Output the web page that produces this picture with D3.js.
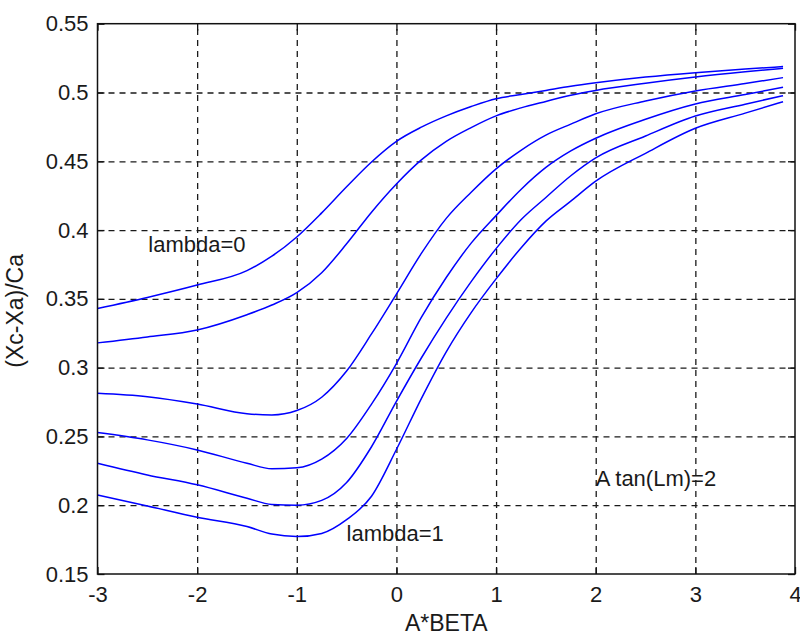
<!DOCTYPE html>
<html>
<head>
<meta charset="utf-8">
<script src="https://cdn.jsdelivr.net/npm/d3@7"></script>
<style>
	body { margin: 0; background: #fff; }
	svg { display: block; font-family: 'Liberation Sans', Arial, sans-serif; }
	.tick text { fill: #1a1a1a; }
	.label { fill: #1a1a1a; }
</style>
</head>
<body>
<div id="chart"></div>
<script>
// x positions (A*BETA) where the curves were read
const aBeta = [-3, -2.5, -2, -1.5, -1.25, -1, -0.75, -0.5, -0.25, 0, 0.25, 0.5, 0.75, 1, 1.25, 1.5, 1.75, 2, 2.5, 3, 3.5, 3.88];

// (Xc-Xa)/Ca, one array per lambda, top curve is lambda=0, bottom is lambda=1
const lambda00 = [0.343, 0.351, 0.360, 0.3705, 0.381, 0.395, 0.4125, 0.4315, 0.4495, 0.4645, 0.4748, 0.483, 0.4898, 0.4955, 0.4985, 0.5015, 0.5045, 0.507, 0.5112, 0.5144, 0.517, 0.5188];
const lambda02 = [0.318, 0.3223, 0.3274, 0.3385, 0.3455, 0.3545, 0.369, 0.390, 0.413, 0.4335, 0.451, 0.4645, 0.4745, 0.483, 0.4888, 0.4935, 0.498, 0.5015, 0.5067, 0.5112, 0.515, 0.5176];
const lambda04 = [0.2814, 0.2789, 0.2736, 0.2665, 0.2656, 0.2688, 0.2785, 0.2975, 0.3245, 0.3535, 0.383, 0.4085, 0.4275, 0.4445, 0.458, 0.469, 0.477, 0.4845, 0.4938, 0.5011, 0.5065, 0.5108];
const lambda06 = [0.2528, 0.2475, 0.2402, 0.2305, 0.2265, 0.2272, 0.2335, 0.2485, 0.2735, 0.303, 0.3365, 0.3655, 0.3905, 0.4105, 0.4295, 0.4455, 0.4575, 0.4667, 0.4805, 0.4916, 0.4985, 0.5038];
const lambda08 = [0.2305, 0.222, 0.2148, 0.2051, 0.2005, 0.2, 0.2035, 0.2165, 0.2425, 0.2755, 0.307, 0.336, 0.3625, 0.3865, 0.4075, 0.4237, 0.4395, 0.4525, 0.4684, 0.4829, 0.4915, 0.4977];
const lambda10 = [0.2075, 0.1995, 0.1913, 0.1845, 0.179, 0.1772, 0.1795, 0.1895, 0.2065, 0.2405, 0.2775, 0.3115, 0.34, 0.3645, 0.387, 0.4065, 0.421, 0.4355, 0.4558, 0.474, 0.485, 0.4933];

const curves = [lambda00, lambda02, lambda04, lambda06, lambda08, lambda10];

// ticks
const xTicks = [-3, -2, -1, 0, 1, 2, 3, 4];
const xTickLabels = ['-3', '-2', '-1', '0', '1', '2', '3', '4'];
const yTicks = [0.15, 0.2, 0.25, 0.3, 0.35, 0.4, 0.45, 0.5, 0.55];
const yTickLabels = ['0.15', '0.2', '0.25', '0.3', '0.35', '0.4', '0.45', '0.5', '0.55'];

// annotations [text, x, y] in data units
const notes = [
	['lambda=0', -2.49, 0.384],
	['lambda=1', -0.5, 0.174],
	['A tan(Lm)=2', 2.0, 0.214]
];

const width = 800;
const height = 637;
const margin = { top: 23.7, right: 5, bottom: 63, left: 97.5 };
const tickLen = 7;
const fontSize = 22;

const x = d3.scaleLinear()
	.domain([-3, 4])
	.range([margin.left, width - margin.right]);

const y = d3.scaleLinear()
	.domain([0.15, 0.55])
	.range([height - margin.bottom, margin.top]);

const svg = d3.select('#chart')
	.append('svg')
	.attr('width', width)
	.attr('height', height);

// dashed grid
const gridlines = (g, axis, size) => {
	g.call(axis.tickSize(size).tickFormat(''))
		.call(g => g.select('.domain').remove())
		.call(g => g.selectAll('.tick line')
			.attr('stroke', '#1a1a1a')
			.attr('stroke-width', 1.3)
			.attr('stroke-dasharray', '6,5'));
};

svg.append('g')
	.attr('transform', `translate(0,${height - margin.bottom})`)
	.call(g => gridlines(g, d3.axisBottom(x).tickValues(xTicks.slice(1, -1)), -(height - margin.bottom - margin.top)));

svg.append('g')
	.attr('transform', `translate(${margin.left},0)`)
	.call(g => gridlines(g, d3.axisLeft(y).tickValues(yTicks.slice(1, -1)), -(width - margin.left - margin.right)));

// the curves
const line = d3.line()
	.x((d, i) => x(aBeta[i]))
	.y(d => y(d))
	.curve(d3.curveMonotoneX);

svg.append('g')
	.selectAll('path')
	.data(curves)
	.join('path')
	.attr('fill', 'none')
	.attr('stroke', '#0000ff')
	.attr('stroke-width', 1.5)
	.attr('d', line);

// axes with inward ticks, matlab style box
const styleAxis = g => {
	g.select('.domain').remove();
	g.selectAll('.tick line').attr('stroke', '#111').attr('stroke-width', 1.3);
	g.selectAll('.tick text').attr('font-size', fontSize);
};

svg.append('g')
	.attr('transform', `translate(0,${height - margin.bottom})`)
	.call(d3.axisBottom(x)
		.tickValues(xTicks)
		.tickFormat((d, i) => xTickLabels[i])
		.tickSizeInner(-tickLen)
		.tickSizeOuter(0)
		.tickPadding(12))
	.call(styleAxis);

svg.append('g')
	.attr('transform', `translate(${margin.left},0)`)
	.call(d3.axisLeft(y)
		.tickValues(yTicks)
		.tickFormat((d, i) => yTickLabels[i])
		.tickSizeInner(-tickLen)
		.tickSizeOuter(0)
		.tickPadding(9))
	.call(styleAxis);

svg.append('g')
	.attr('transform', `translate(0,${margin.top})`)
	.call(d3.axisTop(x).tickValues(xTicks).tickFormat('').tickSizeInner(-tickLen).tickSizeOuter(0))
	.call(styleAxis);

svg.append('g')
	.attr('transform', `translate(${width - margin.right},0)`)
	.call(d3.axisRight(y).tickValues(yTicks).tickFormat('').tickSizeInner(-tickLen).tickSizeOuter(0))
	.call(styleAxis);

// box
svg.append('rect')
	.attr('x', margin.left)
	.attr('y', margin.top)
	.attr('width', width - margin.left - margin.right)
	.attr('height', height - margin.top - margin.bottom)
	.attr('fill', 'none')
	.attr('stroke', '#111')
	.attr('stroke-width', 1.5);

// axis titles
svg.append('text')
	.attr('class', 'label')
	.attr('x', (x.range()[0] + x.range()[1]) / 2)
	.attr('y', 631)
	.attr('text-anchor', 'middle')
	.attr('font-size', fontSize + 1)
	.text('A*BETA');

svg.append('text')
	.attr('class', 'label')
	.attr('transform', `translate(23,${(y.range()[0] + y.range()[1]) / 2 + 12}) rotate(-90)`)
	.attr('text-anchor', 'middle')
	.attr('font-size', fontSize + 1)
	.text('(Xc-Xa)/Ca');

// annotations
svg.append('g')
	.selectAll('text')
	.data(notes)
	.join('text')
	.attr('class', 'label')
	.attr('x', d => x(d[1]))
	.attr('y', d => y(d[2]))
	.attr('font-size', fontSize)
	.text(d => d[0]);
</script>
</body>
</html>
